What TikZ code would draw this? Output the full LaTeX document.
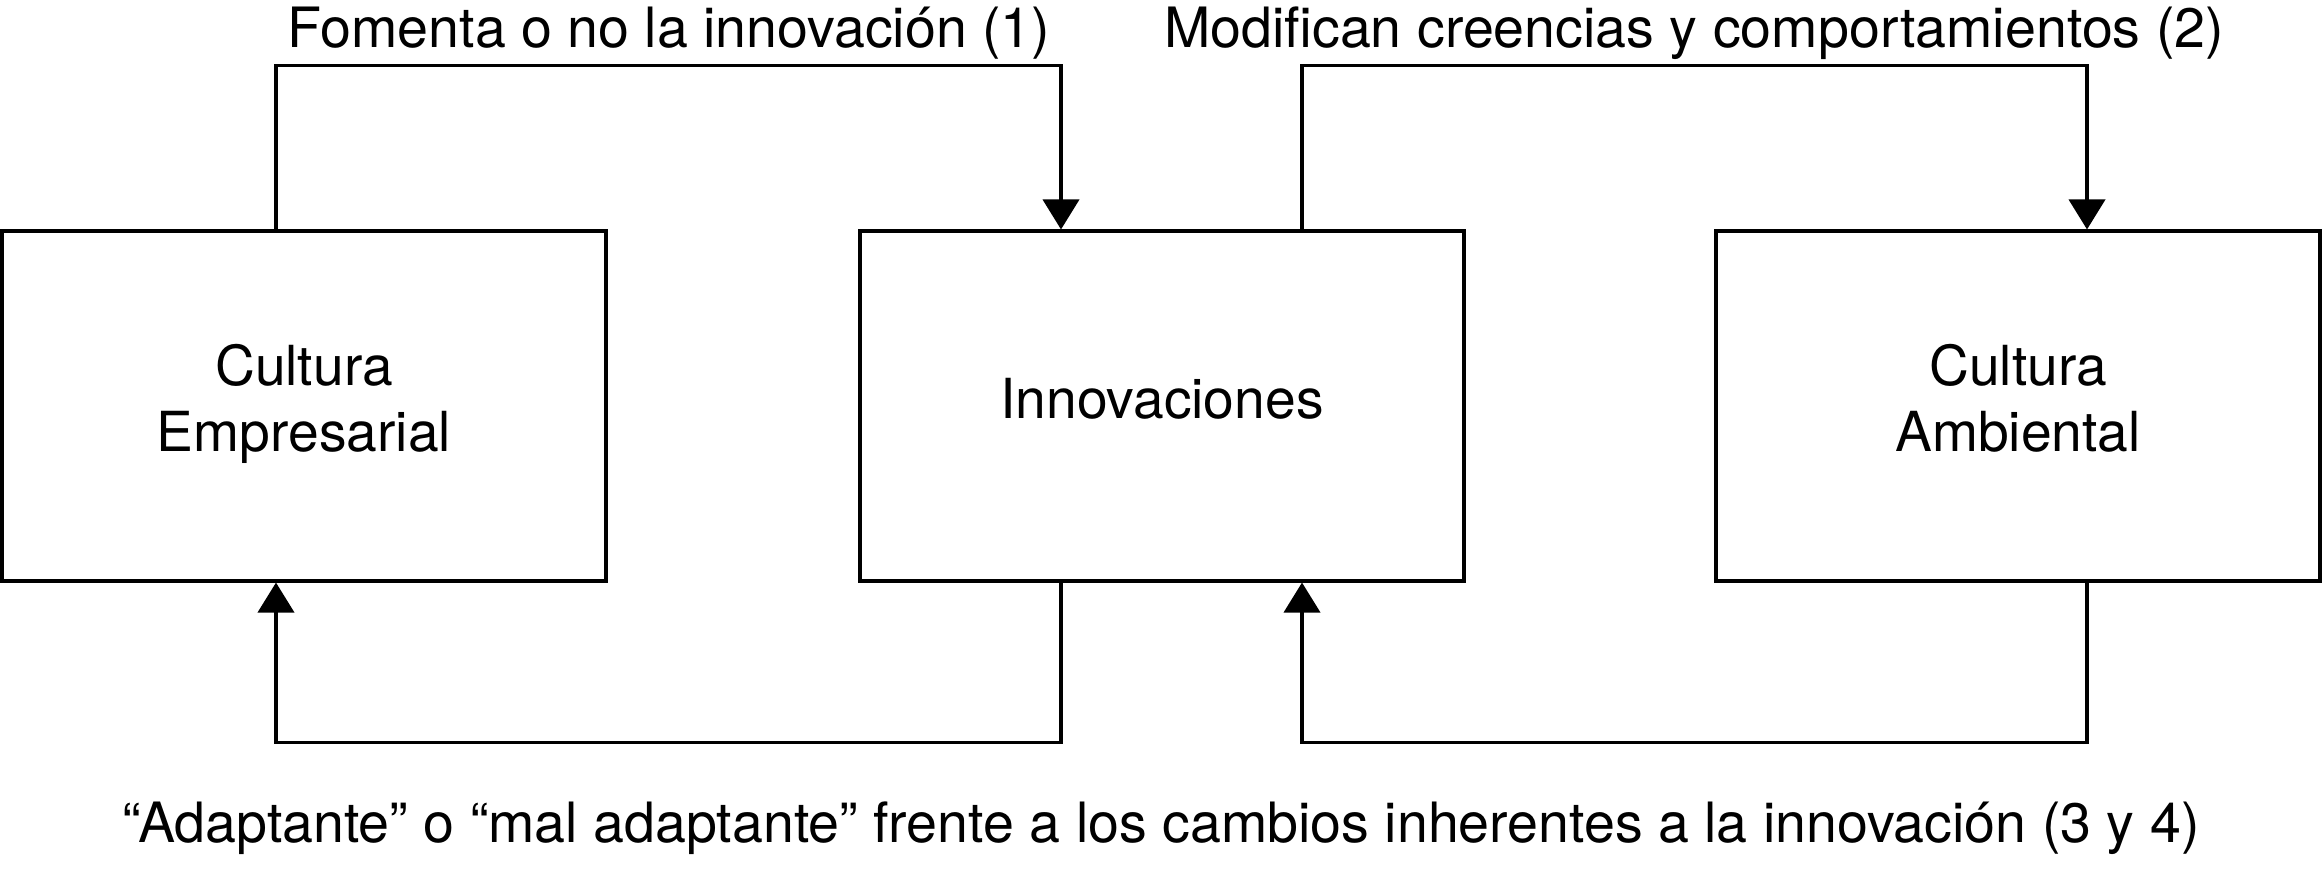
\documentclass[tikz,border=0pt]{standalone}
\usepackage{fontspec}
\setmainfont{TeX Gyre Heros}
\usepackage{tikz}
\usetikzlibrary{arrows.meta,positioning,calc}

\begin{document}
\begin{tikzpicture}[x=0.01cm, y=-0.01cm,
    caja/.style={draw, line width=1.1pt, minimum width=6.03cm, minimum height=3.49cm,
      align=center, text depth=0.16cm, font=\fontsize{15.7}{18.8}\selectfont},
    flecha/.style={line width=1.1pt, -{Triangle[width=0.36cm,length=0.3cm]}},
    etiqueta/.style={anchor=base, inner sep=0pt, font=\fontsize{15.8}{18.8}\selectfont}]
  \useasboundingbox (0,0) rectangle (2324,869);

  % Boxes
  \node[caja] (emp) at (304,406) {Cultura\\Empresarial};
  \node[caja] (inn) at (1162,406) {Innovaciones};
  \node[caja] (amb) at (2018,406) {Cultura\\Ambiental};

  % Labels
  \node[etiqueta] (lab1) at (669,47) {Fomenta o no la innovación (1)};
  \node[etiqueta] (lab2) at (1694,47) {Modifican creencias y comportamientos (2)};
  \node[etiqueta] (lab3) at (1161,842) {“Adaptante” o “mal adaptante” frente a los cambios inherentes a la innovación (3 y 4)};

  % Upper links
  \draw[flecha] ($(emp.north)+(-28,0)$) -- ++(0,-164) -| ($(inn.north)+(-101,0)$);
  \draw[flecha] ($(inn.north)+(140,0)$) -- ++(0,-164) -| ($(amb.north)+(69,0)$);

  % Lower links
  \draw[flecha] ($(inn.south)+(-101,0)$) -- ++(0,160) -| ($(emp.south)+(-28,0)$);
  \draw[flecha] ($(amb.south)+(69,0)$) -- ++(0,160) -| ($(inn.south)+(140,0)$);
\end{tikzpicture}
\end{document}
